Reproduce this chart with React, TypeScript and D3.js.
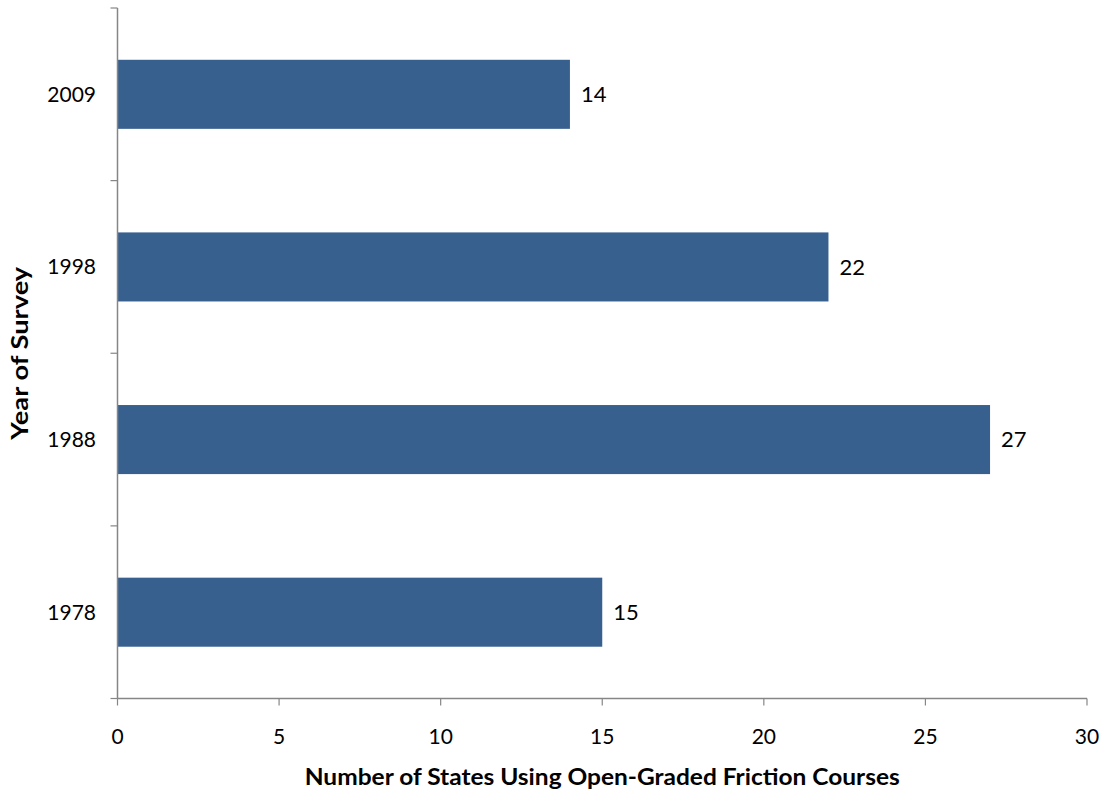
import React from "react";
import * as d3 from "d3";

const years = ["2009", "1998", "1988", "1978"];
const counts = [14, 22, 27, 15];
const xTicks = [0, 5, 10, 15, 20, 25, 30];

const W = 1106;
const H = 793;
const M = { left: 117.5, right: 1087, top: 8, bottom: 698.5 };
const FONT = "Lato, 'Open Sans', sans-serif";

export default function App() {
  const x = d3.scaleLinear().domain([0, 30]).range([M.left, M.right]);
  const y = d3
    .scaleBand<string>()
    .domain(years)
    .range([M.top, M.bottom])
    .paddingInner(0.6)
    .paddingOuter(0.3);
  const step = y.step();
  const bounds = years.map((_, i) => M.top + i * step).concat([M.bottom]);
  const axisColor = "#868686";

  return (
    <svg
      width={W}
      height={H}
      style={{ position: "absolute", left: 0, top: 0, background: "#fff" }}
      fontFamily={FONT}
    >
      {years.map((yr, i) => (
        <g key={yr}>
          <rect
            x={x(0)}
            y={y(yr)!}
            width={x(counts[i]) - x(0)}
            height={y.bandwidth()}
            fill="#37608F"
          />
          <text
            x={x(counts[i]) + 11}
            y={y(yr)! + y.bandwidth() / 2}
            dy="0.35em"
            fontSize={22}
            fill="#000"
          >
            {counts[i]}
          </text>
          <text
            x={96}
            y={y(yr)! + y.bandwidth() / 2}
            dy="0.35em"
            textAnchor="end"
            fontSize={21}
            fill="#000"
          >
            {yr}
          </text>
        </g>
      ))}
      {/* y axis */}
      <line x1={M.left} x2={M.left} y1={M.top} y2={M.bottom} stroke={axisColor} strokeWidth={1.5} />
      {bounds.map((b, i) => (
        <line key={i} x1={M.left - 7} x2={M.left} y1={b} y2={b} stroke={axisColor} strokeWidth={1.2} />
      ))}
      {/* x axis */}
      <line x1={M.left} x2={M.right} y1={M.bottom} y2={M.bottom} stroke={axisColor} strokeWidth={1.5} />
      {xTicks.map((t) => (
        <g key={t}>
          <line x1={x(t)} x2={x(t)} y1={M.bottom} y2={M.bottom + 7} stroke={axisColor} strokeWidth={1.2} />
          <text x={x(t)} y={737} dy="0.35em" textAnchor="middle" fontSize={21} fill="#000">
            {t}
          </text>
        </g>
      ))}
      <text
        x={(M.left + M.right) / 2}
        y={777}
        dy="0.35em"
        textAnchor="middle"
        fontSize={23}
        fontWeight="bold"
        fill="#000"
        textLength={595}
        lengthAdjust="spacingAndGlyphs"
      >
        Number of States Using Open-Graded  Friction Courses
      </text>
      <text
        transform={`translate(20, ${(M.top + M.bottom) / 2}) rotate(-90)`}
        dy="0.35em"
        textAnchor="middle"
        fontSize={23}
        fontWeight="bold"
        fill="#000"
        textLength={173}
        lengthAdjust="spacingAndGlyphs"
      >
        Year of Survey
      </text>
    </svg>
  );
}
